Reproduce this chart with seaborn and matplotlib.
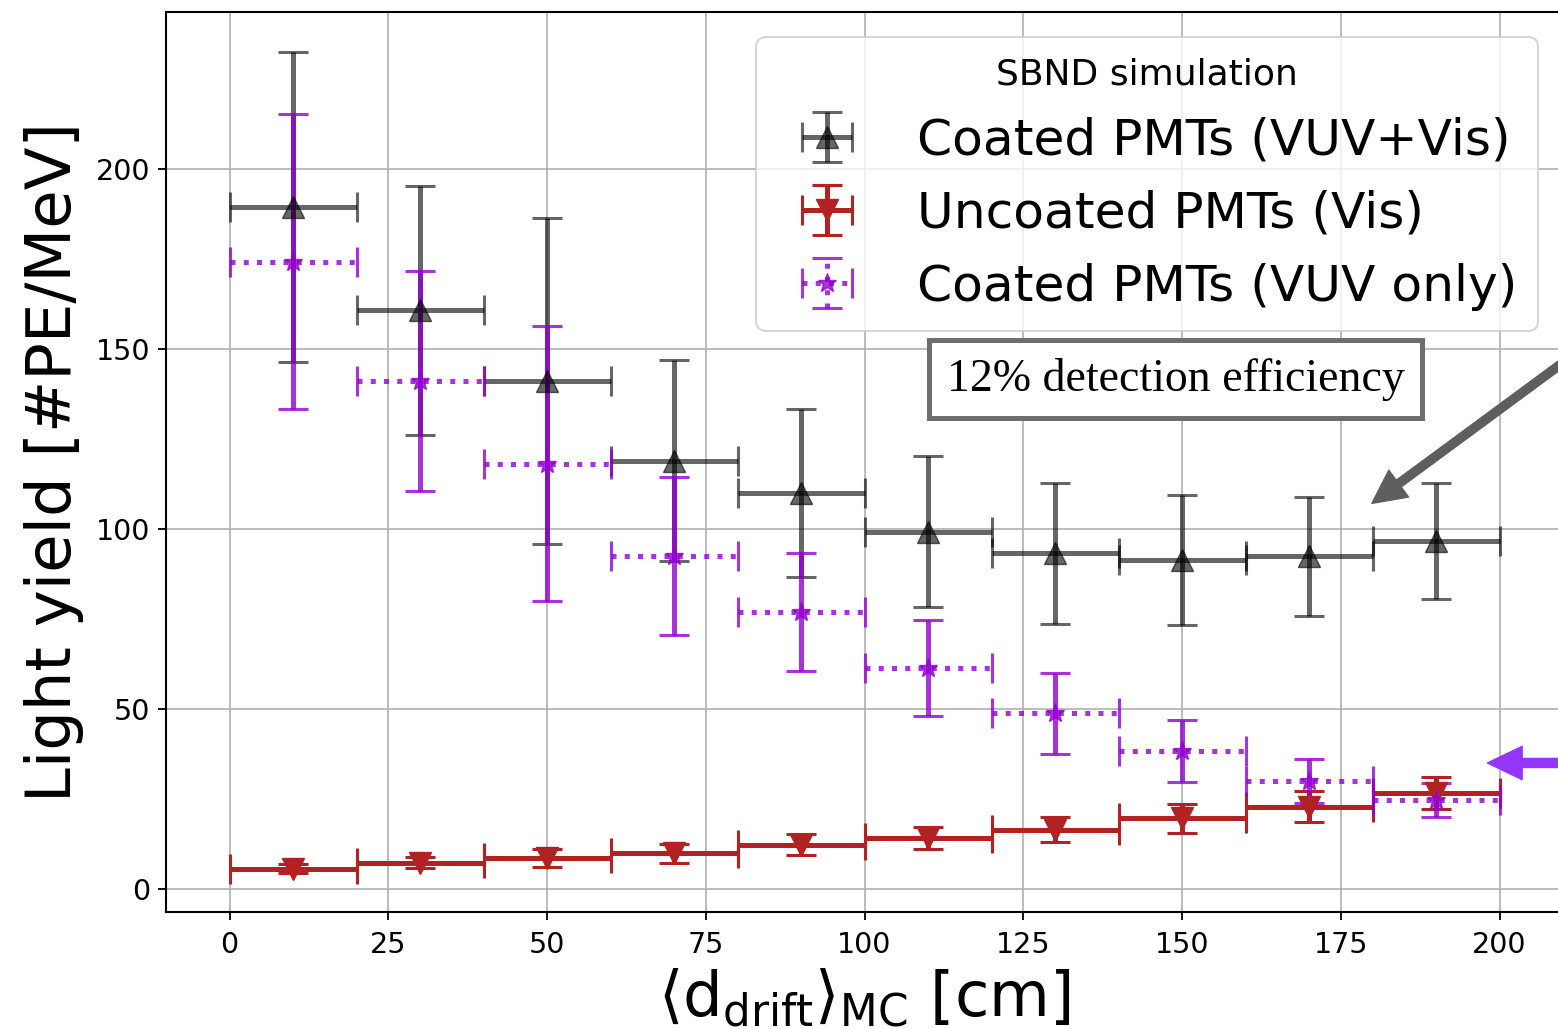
import matplotlib
matplotlib.use('Agg')

import numpy as np
import seaborn as sns
import matplotlib.pyplot as plt

# drift distance bins (cm): centres and half widths
bin_centres = [10, 30, 50, 70, 90, 110, 130, 150, 170, 190]
bin_half = [10, 10, 10, 10, 10, 10, 10, 10, 10, 10]

# coated PMTs (VUV+Vis)
ly_coated = [189.4, 160.8, 141.1, 118.9, 109.9, 99.2, 93.2, 91.4, 92.4, 96.7]
err_coated = [43.0, 34.6, 45.2, 27.9, 23.3, 21.0, 19.7, 18.0, 16.6, 16.2]

# uncoated PMTs (Vis)
ly_uncoated = [5.6, 7.3, 8.6, 9.9, 12.3, 14.2, 16.5, 19.6, 22.9, 26.7]
err_uncoated = [1.2, 1.5, 2.6, 2.7, 3.0, 3.1, 3.5, 4.0, 4.2, 4.5]

# coated PMTs (VUV only)
ly_vuv = [174.2, 141.1, 118.1, 92.5, 77.0, 61.3, 48.8, 38.3, 30.0, 24.7]
err_vuv = [41.0, 30.5, 38.2, 22.0, 16.4, 13.3, 11.2, 8.6, 6.0, 4.8]

sns.set_style("ticks")
plt.rcParams['font.family'] = ['DejaVu Sans']
plt.rcParams['mathtext.fontset'] = 'dejavusans'
plt.rcParams['text.color'] = 'black'
plt.rcParams['axes.labelcolor'] = 'black'


def main():
	fig = plt.figure(figsize=(15.58, 10.29), dpi=100)
	ax = fig.add_axes([166 / 1558, 117 / 1029, 1397 / 1558, 900 / 1029])

	eb_kw = dict(elinewidth=3.6, capsize=10.5, capthick=2.2, linestyle='none')

	ax.errorbar(bin_centres, ly_coated, xerr=bin_half, yerr=err_coated,
				fmt='^', color='black', alpha=0.6, markersize=16,
				label='Coated PMTs (VUV+Vis)', **eb_kw)
	ax.errorbar(bin_centres, ly_uncoated, xerr=bin_half, yerr=err_uncoated,
				fmt='v', color='firebrick', markersize=16,
				label='Uncoated PMTs (Vis)', **eb_kw)
	eb = ax.errorbar(bin_centres, ly_vuv, xerr=bin_half, yerr=err_vuv,
					 fmt='*', color='darkviolet', alpha=0.8, markersize=14,
					 label='Coated PMTs (VUV only)', **eb_kw)
	# dotted horizontal bars for the VUV-only series
	eb[2][0].set_linestyle(':')

	ax.set_xlim(-10, 210)
	ax.set_ylim(-6.4, 243.6)
	ax.set_xticks([0, 25, 50, 75, 100, 125, 150, 175, 200])
	ax.set_yticks([0, 50, 100, 150, 200])
	ax.grid(True, color='#b0b0b0', linewidth=1.2)
	ax.set_axisbelow(True)
	ax.tick_params(labelsize=20.5, length=6, width=1.3, colors='black')
	ax.tick_params(axis='x', pad=7.5)
	ax.tick_params(axis='y', pad=5.5)
	for s in ax.spines.values():
		s.set_linewidth(1.5)
		s.set_color('black')

	ax.set_xlabel(r'$\langle \mathrm{d}_{\mathrm{drift}} \rangle_{\mathrm{MC}}$ [cm]', fontsize=45, labelpad=6)
	ax.set_ylabel('Light yield [#PE/MeV]', fontsize=45, labelpad=8)

	leg = ax.legend(loc='upper right', fontsize=36.2, title='SBND simulation',
					title_fontsize=26, framealpha=0.8)
	leg.get_frame().set_linewidth(1.5)

	ax.text(149, 141.6, '12% detection efficiency', family='Liberation Serif',
			fontsize=33, ha='center', va='center',
			bbox=dict(boxstyle='square,pad=0.38', facecolor='white',
					  edgecolor='#6e6e6e', linewidth=3.6))

	# arrows coming in from the right edge
	ax.annotate('', xy=(179.9, 107.1), xytext=(226, 167), annotation_clip=False,
				arrowprops=dict(facecolor='#5e5e5e', edgecolor='#5e5e5e',
								width=6, headwidth=24, headlength=24, shrink=0))
	ax.annotate('', xy=(198.1, 35), xytext=(226, 35), annotation_clip=False,
				arrowprops=dict(facecolor='#9436ff', edgecolor='#9436ff',
								width=6.5, headwidth=24, headlength=25, shrink=0))

	plt.savefig('out.png', dpi=100)


if __name__ == '__main__':
	main()
